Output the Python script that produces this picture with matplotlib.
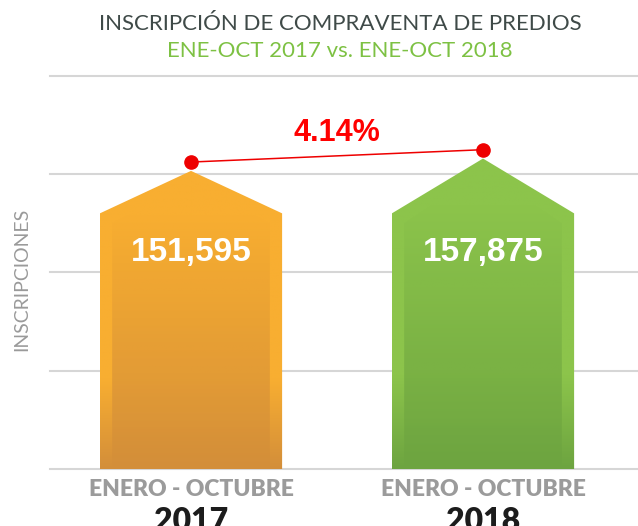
import numpy as np
import matplotlib
matplotlib.use('Agg')
import matplotlib.pyplot as plt
from matplotlib.patches import Polygon
from matplotlib.colors import LinearSegmentedColormap
from matplotlib import font_manager as fm

# datos
periodos = ['ENERO - OCTUBRE', 'ENERO - OCTUBRE']
anios = ['2017', '2018']
inscripciones = [151595, 157875]
ticks_y = [0, 50000, 100000, 150000, 200000]

# colores (arriba, abajo)
COLORES = [('#f8ae31', '#d38e3a'), ('#8cc44b', '#6da440')]

def fuente(nombre, defecto='DejaVu Sans'):
    try:
        fm.findfont(nombre, fallback_to_default=False)
        return nombre
    except Exception:
        return defecto

LATO = fuente('Lato')

fig = plt.figure(figsize=(6.38, 5.26), dpi=100)
ax = fig.add_axes([50/638, 57/526, 588/638, 393.3/526])

# lineas horizontales
for t in ticks_y:
    ax.axhline(t, color='#d6d6d6', lw=1.5, zorder=0, clip_on=False)

grad = np.linspace(0, 1, 256).reshape(-1, 1)
ancho = 0.312
hombro = 130000
for i, v in enumerate(inscripciones):
    arriba, abajo = COLORES[i]
    # cuerpo exterior
    pts = [(i-ancho, 0), (i-ancho, hombro), (i, v), (i+ancho, hombro), (i+ancho, 0)]
    poly = Polygon(pts, closed=True, facecolor='none', edgecolor='none')
    ax.add_patch(poly)
    cmap = LinearSegmentedColormap.from_list('ext', [(0, abajo), (0.3, arriba), (1, arriba)])
    im = ax.imshow(grad, cmap=cmap, extent=[i-ancho, i+ancho, 0, v], origin='lower',
                   aspect='auto', zorder=2)
    im.set_clip_path(poly)
    # panel interior (bisel)
    d = 0.042
    pts_in = [(i-ancho+d, 0), (i-ancho+d, hombro-5000), (i, v-7000), (i+ancho-d, hombro-5000), (i+ancho-d, 0)]
    poly_in = Polygon(pts_in, closed=True, facecolor='none', edgecolor='none')
    ax.add_patch(poly_in)
    cmap_in = LinearSegmentedColormap.from_list('int', [(0, abajo), (0.85, arriba), (1, arriba)])
    im2 = ax.imshow(grad, cmap=cmap_in, extent=[i-ancho, i+ancho, 0, v], origin='lower',
                    aspect='auto', zorder=3, alpha=0.9)
    im2.set_clip_path(poly_in)
    # valor
    ax.text(i, 110000, '{:,}'.format(v), ha='center', va='center', color='white',
            fontsize=24, fontweight='bold', family='Liberation Sans', zorder=5)

# variacion porcentual
var = (inscripciones[1]/inscripciones[0] - 1) * 100
ax.plot([0, 1], [inscripciones[0]+4500, inscripciones[1]+4500], color='#ee0000', lw=1.1,
        marker='o', markersize=9.5, zorder=6, clip_on=False)
ax.text(0.5, 171000, '{:.2f}%'.format(var), ha='center', va='center', color='#ff0000',
        fontsize=22, fontweight='bold', family='Liberation Sans', zorder=6)

ax.set_xlim((50-191)/292, (638-191)/292)
ax.set_ylim(0, 200000)
ax.axis('off')

# etiquetas de categoria
for i in range(len(anios)):
    xf = (191 + 292*i) / 638
    fig.text(xf, 1-490/526, periodos[i], ha='center', va='center', color='#9b9b9b',
             fontsize=16.5, fontweight='heavy', family=LATO)
    fig.text(xf, 1-507/526, anios[i], ha='center', va='top', color='#1c1c1c',
             fontsize=23, fontweight='heavy', family=LATO)

# titulos
fig.text(340/638, 1-24/526, 'INSCRIPCIÓN DE COMPRAVENTA DE PREDIOS', ha='center', va='center',
         color='#3f4a48', fontsize=16, family=LATO)
fig.text(340/638, 1-51/526, 'ENE-OCT 2017 vs. ENE-OCT 2018', ha='center', va='center',
         color='#7dc143', fontsize=16, family=LATO)
fig.text(22/638, 1-279/526, 'INSCRIPCIONES', rotation=90, ha='center', va='center',
         color='#9a9a9a', fontsize=14, family=LATO)

fig.savefig('out.png', dpi=100)
